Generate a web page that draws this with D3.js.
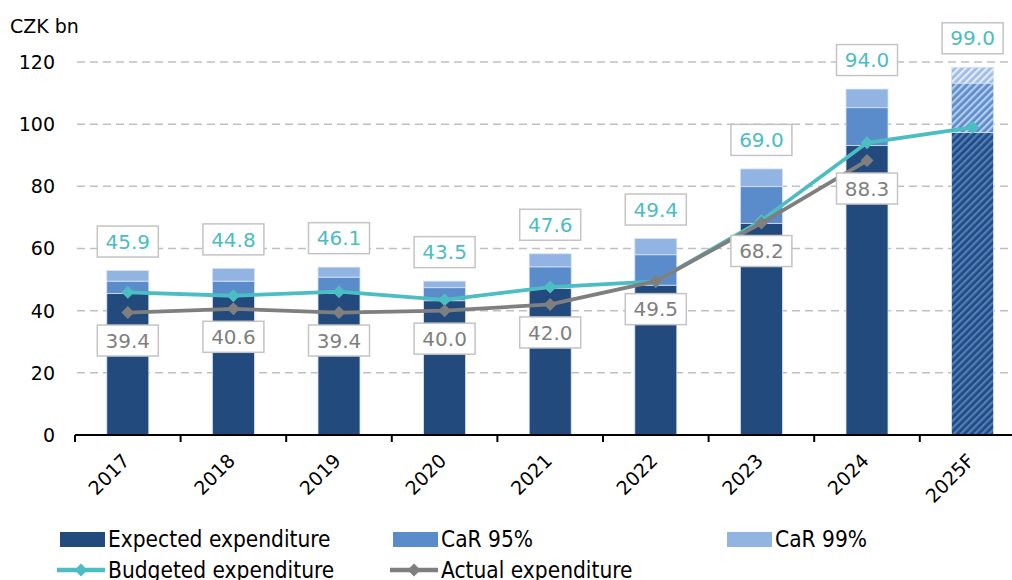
<!DOCTYPE html>
<html lang="en">
<head>
  <meta charset="UTF-8" />
  <title>Debt service expenditure – CaR</title>
  <script src="https://d3js.org/d3.v7.min.js"></script>
  <style>
    html, body { margin: 0; padding: 0; background: #fff; }
    svg { display: block; font-family: "DejaVu Sans", Verdana, sans-serif; }
    .grid line { stroke: #c0c0c0; stroke-width: 1.5; stroke-dasharray: 8,5; }
    .ytick text { font-size: 19px; fill: #000; }
    .xtick text { font-size: 19px; fill: #000; }
    .legend text { font-family: "DejaVu Sans Condensed", "DejaVu Sans", sans-serif; font-size: 22.5px; fill: #000; }
    .lbl text { font-size: 20px; }
  </style>
</head>
<body>
  <svg id="chart"></svg>

  <script>
    const years = ["2017", "2018", "2019", "2020", "2021", "2022", "2023", "2024", "2025F"];
    const expected = [45.5, 45.0, 45.5, 43.2, 47.2, 48.2, 68.1, 93.1, 97.3];
    const car95 = [4.0, 4.5, 5.3, 4.2, 6.9, 9.8, 11.8, 12.2, 15.9];
    const car99 = [3.4, 4.1, 3.2, 2.1, 4.2, 5.2, 5.7, 6.0, 5.1];
    const budgeted = [45.9, 44.8, 46.1, 43.5, 47.6, 49.4, 69.0, 94.0, 99.0];
    const actual = [39.4, 40.6, 39.4, 40.0, 42.0, 49.5, 68.2, 88.3, null];
    const yTicks = [0, 20, 40, 60, 80, 100, 120];

    const width = 1012, height = 580;
    const svg = d3.select("#chart").attr("width", width).attr("height", height);

    const x = d3.scaleBand().domain(years).range([75, 1025.4]).paddingInner(0).paddingOuter(0);
    const y = d3.scaleLinear().domain([0, 120]).range([435, 62]);
    const barW = 42;

    // hatch patterns for the forecast bar
    const defs = svg.append("defs");
    function hatch(id, bg, fg) {
      const p = defs.append("pattern")
        .attr("id", id)
        .attr("patternUnits", "userSpaceOnUse")
        .attr("width", 5).attr("height", 5)
        .attr("patternTransform", "rotate(45)");
      p.append("rect").attr("width", 5).attr("height", 5).attr("fill", bg);
      p.append("rect").attr("width", 2.3).attr("height", 5).attr("fill", fg);
    }
    hatch("h-exp", "#224a7c", "#4f7fbf");
    hatch("h-95", "#5a8bca", "#b6cdec");
    hatch("h-99", "#9dbce5", "#e3ecf8");

    const colors = { expected: "#224a7c", car95: "#5a8bca", car99: "#91b4e2" };
    const hatches = { expected: "url(#h-exp)", car95: "url(#h-95)", car99: "url(#h-99)" };

    // gridlines
    svg.append("g").attr("class", "grid")
      .selectAll("line")
      .data(yTicks.filter(d => d > 0))
      .enter().append("line")
      .attr("x1", 77).attr("x2", width)
      .attr("y1", d => y(d)).attr("y2", d => y(d));

    // y tick labels
    svg.append("g").attr("class", "ytick")
      .selectAll("text")
      .data(yTicks)
      .enter().append("text")
      .attr("x", 55).attr("y", d => y(d))
      .attr("dy", "0.36em")
      .attr("text-anchor", "end")
      .text(d => d);

    svg.append("text")
      .attr("x", 10).attr("y", 33)
      .style("font-size", "19px")
      .text("CZK bn");

    // stacked bars
    const rows = years.map((yr, i) => ({ year: yr, expected: expected[i], car95: car95[i], car99: car99[i] }));
    const stack = d3.stack().keys(["expected", "car95", "car99"])(rows);

    svg.append("g").selectAll("g")
      .data(stack)
      .enter().append("g")
      .selectAll("rect")
      .data(s => s.map(d => ({ key: s.key, d: d })))
      .enter().append("rect")
      .attr("x", o => x(o.d.data.year) + x.bandwidth() / 2 - barW / 2)
      .attr("width", barW)
      .attr("y", o => y(o.d[1]))
      .attr("height", o => y(o.d[0]) - y(o.d[1]))
      .attr("fill", o => o.d.data.year === "2025F" ? hatches[o.key] : colors[o.key])
      .attr("stroke", "#d6e2f2")
      .attr("stroke-width", 0.8);

    // x axis
    svg.append("line")
      .attr("x1", 75).attr("x2", width)
      .attr("y1", 435).attr("y2", 435)
      .attr("stroke", "#000").attr("stroke-width", 2);

    svg.append("g").selectAll("line")
      .data(years)
      .enter().append("line")
      .attr("x1", d => x(d)).attr("x2", d => x(d))
      .attr("y1", 435).attr("y2", 442)
      .attr("stroke", "#000").attr("stroke-width", 2);

    svg.append("g").attr("class", "xtick")
      .selectAll("text")
      .data(years)
      .enter().append("text")
      .attr("transform", d => `translate(${x(d) + x.bandwidth() / 2 + 3},${462}) rotate(-45)`)
      .attr("text-anchor", "end")
      .text(d => d);

    // lines
    const cx = d => x(d) + x.bandwidth() / 2;
    const diamond = "M0,-6.5L6.5,0L0,6.5L-6.5,0Z";

    function drawLine(values, color) {
      const pts = years.map((yr, i) => ({ yr: yr, v: values[i] })).filter(p => p.v != null);
      const line = d3.line().x(p => cx(p.yr)).y(p => y(p.v));
      svg.append("path")
        .datum(pts)
        .attr("d", line)
        .attr("fill", "none")
        .attr("stroke", color)
        .attr("stroke-width", 3.8);
      svg.append("g").selectAll("path")
        .data(pts)
        .enter().append("path")
        .attr("d", diamond)
        .attr("transform", p => `translate(${cx(p.yr)},${y(p.v)})`)
        .attr("fill", color);
      return pts;
    }
    const budPts = drawLine(budgeted, "#4bbdc3");
    const actPts = drawLine(actual, "#7f7f7f");

    // data labels
    function labels(pts, color, yPos) {
      const g = svg.append("g").attr("class", "lbl")
        .selectAll("g")
        .data(pts)
        .enter().append("g")
        .attr("transform", p => `translate(${cx(p.yr)},${yPos(p)})`);
      g.append("rect")
        .attr("x", -30.5).attr("y", -15.5)
        .attr("width", 61).attr("height", 31)
        .attr("fill", "#fff")
        .attr("stroke", "#c4c4c4")
        .attr("stroke-width", 1.5);
      g.append("text")
        .attr("text-anchor", "middle")
        .attr("dy", "0.36em")
        .attr("fill", color)
        .text(p => p.v.toFixed(1));
    }
    const totals = years.map((yr, i) => expected[i] + car95[i] + car99[i]);
    labels(budPts, "#4bbdc3", p => y(totals[years.indexOf(p.yr)]) - 29);
    labels(actPts, "#7f7f7f", p => y(p.v) + 28);

    // legend
    const legend = svg.append("g").attr("class", "legend");
    const boxItems = [
      { name: "Expected expenditure", color: colors.expected, x: 60 },
      { name: "CaR 95%", color: colors.car95, x: 393 },
      { name: "CaR 99%", color: colors.car99, x: 727 }
    ];
    boxItems.forEach(it => {
      legend.append("rect").attr("x", it.x).attr("y", 532).attr("width", 45).attr("height", 15).attr("fill", it.color);
      legend.append("text").attr("x", it.x + 48).attr("y", 539).attr("dy", "0.36em").text(it.name);
    });
    const lineItems = [
      { name: "Budgeted expenditure", color: "#4bbdc3", x: 60 },
      { name: "Actual expenditure", color: "#7f7f7f", x: 393 }
    ];
    lineItems.forEach(it => {
      legend.append("line").attr("x1", it.x - 3).attr("x2", it.x + 45)
        .attr("y1", 570).attr("y2", 570)
        .attr("stroke", it.color).attr("stroke-width", 4.5);
      legend.append("path").attr("d", diamond)
        .attr("transform", `translate(${it.x + 21},570)`)
        .attr("fill", it.color);
      legend.append("text").attr("x", it.x + 48).attr("y", 570).attr("dy", "0.36em").text(it.name);
    });
  </script>
</body>
</html>
